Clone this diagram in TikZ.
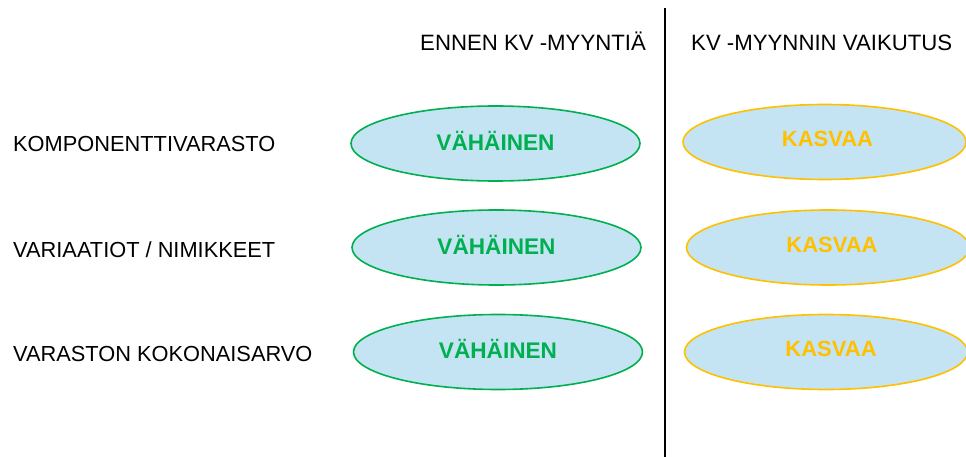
\documentclass[tikz,border=0pt]{standalone}
\usepackage{fontspec}
\setmainfont{Liberation Sans}
\usetikzlibrary{shapes.geometric}
\definecolor{okgreen}{RGB}{0,176,80}
\definecolor{warnyellow}{RGB}{255,192,0}
\definecolor{paleblue}{RGB}{196,228,243}
\tikzset{
  rowlabel/.style={anchor=base west, inner sep=0pt, font=\fontsize{21.8}{24}\selectfont},
  colhead/.style={anchor=base west, inner sep=0pt, font=\fontsize{22.2}{24}\selectfont},
  oval/.style={ellipse, fill=paleblue, line width=1.6pt, inner sep=0pt},
  lowoval/.style={oval, draw=okgreen, minimum width=289pt, minimum height=75pt},
  highoval/.style={oval, draw=warnyellow, minimum width=283pt, minimum height=75pt},
  lowtext/.style={text=okgreen, inner sep=0pt, font=\bfseries\fontsize{22.6}{24}\selectfont},
  hightext/.style={text=warnyellow, inner sep=0pt, font=\bfseries\fontsize{22}{24}\selectfont}
}
\begin{document}
\begin{tikzpicture}[x=1pt, y=-1pt]
  \useasboundingbox (0,0) rectangle (966,457);

  % column headers and divider
  \node[colhead] (hbefore) at (420,51) {ENNEN KV -MYYNTIÄ};
  \node[colhead] (hafter) at (691,51) {KV -MYYNNIN VAIKUTUS};
  \coordinate (divtop) at (665,8);
  \coordinate (divbot) at (665,457);
  \draw[line width=2.4pt] (divtop) -- (divbot);

  % row labels
  \node[rowlabel] (r1) at (13,152) {KOMPONENTTIVARASTO};
  \node[rowlabel] (r2) at (13,257) {VARIAATIOT / NIMIKKEET};
  \node[rowlabel] (r3) at (13,361) {VARASTON KOKONAISARVO};

  % before: small
  \node[lowoval] (b1) at (495.5,143.5) {};
  \node[lowoval] (b2) at (496.5,247.5) {};
  \node[lowoval] (b3) at (498,352) {};
  \node[lowtext] (t1) at ([yshift=3pt]b1.center) {VÄHÄINEN};
  \node[lowtext] (t2) at ([yshift=3pt]b2.center) {VÄHÄINEN};
  \node[lowtext] (t3) at ([yshift=3pt]b3.center) {VÄHÄINEN};

  % after: grows
  \node[highoval] (a1) at (824.5,142) {};
  \node[highoval] (a2) at (828,247.5) {};
  \node[highoval] (a3) at (826,352) {};
  \node[hightext] (u1) at ([xshift=3pt,yshift=3pt]a1.center) {KASVAA};
  \node[hightext] (u2) at ([xshift=4pt,yshift=3pt]a2.center) {KASVAA};
  \node[hightext] (u3) at ([xshift=5pt,yshift=3pt]a3.center) {KASVAA};
\end{tikzpicture}
\end{document}
